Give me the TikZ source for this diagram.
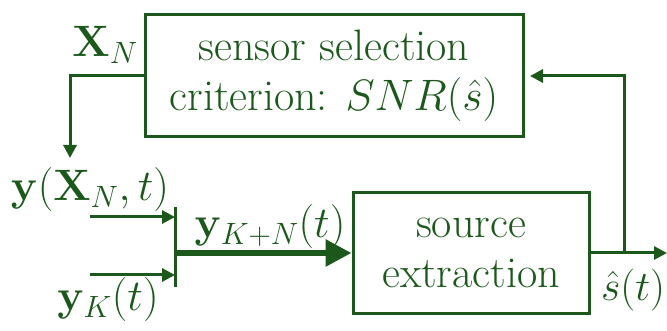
\RequirePackage{fix-cm}
\documentclass[tikz,border=0pt]{standalone}
\usetikzlibrary{arrows.meta}
\definecolor{dg}{RGB}{28,88,28}
\begin{document}
\begin{tikzpicture}[x=1pt,y=-1pt,
  every node/.style={text=dg,font=\fontsize{44}{50}\selectfont},
  blk/.style={draw=dg,line width=3pt,inner sep=0pt,align=center},
  ln/.style={draw=dg,line width=3pt},
  arr/.style={ln,-{Triangle[length=13pt,width=13pt]}},
  bigarr/.style={draw=dg,line width=6pt,-{Triangle[length=26pt,width=26pt]}},
  lbl/.style={inner sep=0pt}]
\useasboundingbox (0,0) rectangle (667,331);
\node[blk,minimum width=378pt,minimum height=122pt] (sel) at (334,76) {sensor selection\\criterion: $SNR(\hat{s})$};
\node[blk,minimum width=236pt,minimum height=120pt] (ext) at (471,253) {source\\extraction};
\node[lbl] (xn) at (105,45) {$\mathbf{X}_N$};
\node[lbl] (yxn) at (90,190) {$\mathbf{y}(\mathbf{X}_N,t)$};
\node[lbl] (ykn) at (270,227) {$\mathbf{y}_{K+N}(t)$};
\node[lbl] (yk) at (108,300) {$\mathbf{y}_K(t)$};
\node[lbl,font=\fontsize{42}{48}\selectfont] (sh) at (633,290) {$\hat{s}(t)$};
\coordinate (c1) at (70,76);
\coordinate (c2) at (70,158);
\coordinate (i1) at (90,217);
\coordinate (i1e) at (175,217);
\coordinate (i2) at (90,275);
\coordinate (i2e) at (175,275);
\coordinate (bt) at (175,207);
\coordinate (bb) at (175,287);
\coordinate (bm) at (175,253);
\coordinate (br) at (624,253);
\coordinate (bu) at (624,76);
\coordinate (fb) at (530,76);
\coordinate (out) at (667,253);
\draw[arr] (sel.west) -- (c1) -- (c2);
\draw[arr] (i1) -- (i1e);
\draw[arr] (i2) -- (i2e);
\draw[ln] (bt) -- (bb);
\draw[bigarr] (bm) -- (ext.west);
\draw[arr] (ext.east) -- (out);
\draw[arr] (br) -- (bu) -- (fb);
\end{tikzpicture}
\end{document}
